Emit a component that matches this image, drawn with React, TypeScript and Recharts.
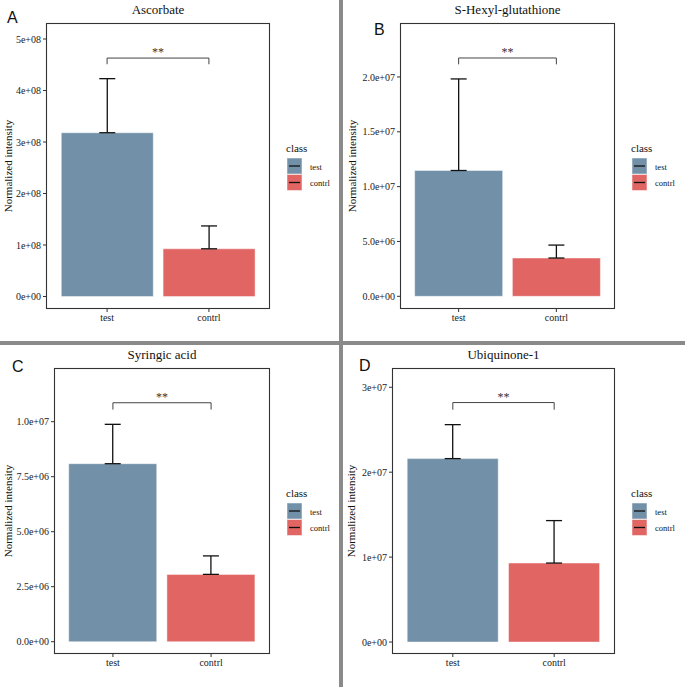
import React from 'react';
import { BarChart, Bar, Cell, ErrorBar, XAxis, YAxis, ReferenceLine } from 'recharts';

const SERIF = '"Liberation Serif", "Times New Roman", serif';
const SANS = '"Liberation Sans", Arial, sans-serif';

const classes = ['test', 'contrl'];
const classColors = ['#7291a9', '#e06563'];

// Ascorbate
const ascorbateMean = [3.18e8, 0.926e8];
const ascorbateSd = [1.05e8, 0.444e8];
const ascorbateTicks = [0, 1e8, 2e8, 3e8, 4e8, 5e8];
const ascorbateTickLabels = ['0e+00', '1e+08', '2e+08', '3e+08', '4e+08', '5e+08'];

// S-Hexyl-glutathione
const hexylMean = [11.47e6, 3.49e6];
const hexylSd = [8.35e6, 1.18e6];
const hexylTicks = [0, 5e6, 10e6, 15e6, 20e6];
const hexylTickLabels = ['0.0e+00', '5.0e+06', '1.0e+07', '1.5e+07', '2.0e+07'];

// Syringic acid
const syringicMean = [8.09e6, 3.06e6];
const syringicSd = [1.79e6, 0.84e6];
const syringicTicks = [0, 2.5e6, 5e6, 7.5e6, 10e6];
const syringicTickLabels = ['0.0e+00', '2.5e+06', '5.0e+06', '7.5e+06', '1.0e+07'];

// Ubiquinone-1
const ubiquinoneMean = [2.16e7, 0.93e7];
const ubiquinoneSd = [0.4e7, 0.5e7];
const ubiquinoneTicks = [0, 1e7, 2e7, 3e7];
const ubiquinoneTickLabels = ['0e+00', '1e+07', '2e+07', '3e+07'];

type PanelProps = {
  letter: string;
  title: string;
  box: [number, number, number, number]; // left, top, width, height
  plot: [number, number, number, number]; // x1, y1, x2, y2 (page coords)
  domain: [number, number];
  ticks: number[];
  tickLabels: string[];
  means: number[];
  sds: number[];
  bracket: [number, number]; // line value, tip value
  letterPos: [number, number];
  yLabelX: number;
  legendX: number;
};

function Panel(p: PanelProps) {
  const [bl, bt, bw, bh] = p.box;
  const [x1, y1, x2, y2] = p.plot;
  const plotW = x2 - x1;
  const pad = (0.1 * plotW) / 2.2;
  const xAxisH = 20;
  const data = classes.map((c, i) => ({ cls: c, mean: p.means[i], err: [0, p.sds[i]] }));
  const rx1 = x1 - bl, ry1 = y1 - bt, rx2 = x2 - bl, ry2 = y2 - bt;
  const midY = (ry1 + ry2) / 2;
  const lx = p.legendX;
  const legendTop = midY - 23;

  return (
    <div style={{ position: 'absolute', left: bl, top: bt, width: bw, height: bh, fontFamily: SERIF }}>
      <BarChart
        width={bw}
        height={bh}
        data={data}
        barCategoryGap="5%"
        margin={{ top: ry1, right: bw - rx2, bottom: bh - ry2 - xAxisH, left: 0 }}
      >
        <XAxis
          dataKey="cls"
          height={xAxisH}
          padding={{ left: pad, right: pad }}
          axisLine={false}
          tickLine={{ stroke: '#333' }}
          tickSize={3}
          tickMargin={2}
          tick={{ fill: '#222', fontSize: 10 }}
        />
        <YAxis
          type="number"
          width={rx1}
          domain={p.domain}
          allowDataOverflow
          ticks={p.ticks}
          interval={0}
          tickFormatter={(_v: number, i: number) => p.tickLabels[i]}
          axisLine={false}
          tickLine={{ stroke: '#333' }}
          tickSize={3}
          tickMargin={2}
          tick={{ fill: '#222', fontSize: 10 }}
        />
        <Bar dataKey="mean" isAnimationActive={false} stroke="#ffffff" strokeOpacity={0.45} strokeWidth={1}>
          {data.map((d, i) => (
            <Cell key={d.cls} fill={classColors[i]} />
          ))}
          <ErrorBar dataKey="err" width={8} stroke="#111" strokeWidth={1.3} isAnimationActive={false} />
        </Bar>
        <ReferenceLine
          segment={[{ x: 'test', y: p.bracket[0] }, { x: 'contrl', y: p.bracket[0] }]}
          stroke="#444"
          strokeWidth={1}
          label={{ value: '**', position: 'top', offset: 2, fill: '#333', fontSize: 12 }}
        />
        <ReferenceLine segment={[{ x: 'test', y: p.bracket[0] }, { x: 'test', y: p.bracket[1] }]} stroke="#444" strokeWidth={1} />
        <ReferenceLine segment={[{ x: 'contrl', y: p.bracket[0] }, { x: 'contrl', y: p.bracket[1] }]} stroke="#444" strokeWidth={1} />
      </BarChart>
      <svg width={bw} height={bh} style={{ position: 'absolute', left: 0, top: 0, pointerEvents: 'none' }}>
        <rect x={rx1 + 0.5} y={ry1 + 0.5} width={rx2 - rx1 - 1} height={ry2 - ry1 - 1} fill="none" stroke="#333" strokeWidth={1.1} />
        <text x={p.letterPos[0]} y={p.letterPos[1]} fontFamily={SANS} fontSize={16} fill="#111">{p.letter}</text>
        <text x={(rx1 + rx2) / 2} y={ry1 - 9} textAnchor="middle" fontSize={13} fill="#111">{p.title}</text>
        <text transform={`translate(${p.yLabelX},${midY}) rotate(-90)`} textAnchor="middle" fontSize={11} fill="#111">
          Normalized intensity
        </text>
        <text x={lx - 1} y={legendTop + 9} fontSize={11} fill="#111">class</text>
        {classes.map((c, i) => (
          <g key={c}>
            <rect x={lx} y={legendTop + 15 + i * 16.5} width={15} height={16} fill={classColors[i]} stroke="#ffffff" strokeOpacity={0.5} />
            <line x1={lx + 2} x2={lx + 13} y1={legendTop + 23 + i * 16.5} y2={legendTop + 23 + i * 16.5} stroke="#111" strokeWidth={1.3} />
            <text x={lx + 23} y={legendTop + 26.5 + i * 16.5} fontSize={8.5} fill="#111">{c}</text>
          </g>
        ))}
      </svg>
    </div>
  );
}

export default function App() {
  return (
    <div style={{ position: 'absolute', left: 0, top: 0, width: 685, height: 687, background: '#fff', overflow: 'hidden' }}>
      <Panel
        letter="A"
        title="Ascorbate"
        box={[0, 0, 339, 341]}
        plot={[46, 23, 270, 309]}
        domain={[-0.243e8, 5.311e8]}
        ticks={ascorbateTicks}
        tickLabels={ascorbateTickLabels}
        means={ascorbateMean}
        sds={ascorbateSd}
        bracket={[4.63e8, 4.51e8]}
        letterPos={[7, 23]}
        yLabelX={11.5}
        legendX={287}
      />
      <Panel
        letter="B"
        title="S-Hexyl-glutathione"
        box={[343, 0, 342, 341]}
        plot={[400, 23, 615, 309]}
        domain={[-1.158e6, 24.92e6]}
        ticks={hexylTicks}
        tickLabels={hexylTickLabels}
        means={hexylMean}
        sds={hexylSd}
        bracket={[21.73e6, 21.15e6]}
        letterPos={[31, 35]}
        yLabelX={13}
        legendX={289}
      />
      <Panel
        letter="C"
        title="Syringic acid"
        box={[0, 345, 339, 342]}
        plot={[54, 368, 270, 654]}
        domain={[-0.559e6, 12.44e6]}
        ticks={syringicTicks}
        tickLabels={syringicTickLabels}
        means={syringicMean}
        sds={syringicSd}
        bracket={[10.86e6, 10.55e6]}
        letterPos={[12, 27]}
        yLabelX={11.5}
        legendX={287}
      />
      <Panel
        letter="D"
        title="Ubiquinone-1"
        box={[343, 345, 342, 342]}
        plot={[392, 368, 615, 654]}
        domain={[-0.141e7, 3.227e7]}
        ticks={ubiquinoneTicks}
        tickLabels={ubiquinoneTickLabels}
        means={ubiquinoneMean}
        sds={ubiquinoneSd}
        bracket={[2.82e7, 2.736e7]}
        letterPos={[16, 26]}
        yLabelX={12}
        legendX={289}
      />
      <div style={{ position: 'absolute', left: 339, top: 0, width: 4, height: 687, background: '#8a8a8a' }} />
      <div style={{ position: 'absolute', left: 0, top: 341, width: 685, height: 4, background: '#8a8a8a' }} />
    </div>
  );
}
